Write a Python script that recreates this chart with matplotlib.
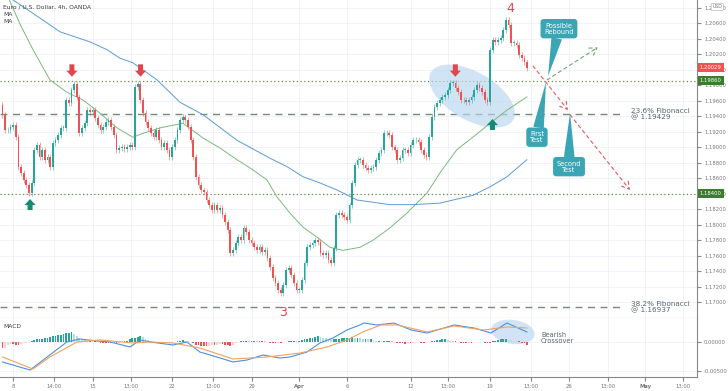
import matplotlib
matplotlib.use('Agg')
import matplotlib.pyplot as plt
import numpy as np
from matplotlib.patches import Ellipse
from matplotlib.transforms import IdentityTransform, blended_transform_factory
from matplotlib.ticker import FuncFormatter

# EUR/USD 4h closes
closes = [
    1.1942, 1.1922, 1.1922, 1.1926, 1.1929, 1.1913, 1.1875, 1.1867, 1.1858, 1.1851,
    1.1841, 1.1854, 1.1897, 1.1903, 1.1887, 1.1897, 1.1884, 1.1887, 1.1875, 1.1906,
    1.1909, 1.1916, 1.1925, 1.1925, 1.1961, 1.1957, 1.1974, 1.1982, 1.1965, 1.1918,
    1.1925, 1.1931, 1.1948, 1.1946, 1.1948, 1.1938, 1.1929, 1.1922, 1.1926, 1.1933,
    1.1935, 1.1926, 1.1916, 1.1897, 1.1899, 1.1900, 1.1898, 1.1900, 1.1903, 1.1900,
    1.1978, 1.1982, 1.1961, 1.1944, 1.1933, 1.1925, 1.1918, 1.1913, 1.1922, 1.1909,
    1.1900, 1.1906, 1.1897, 1.1887, 1.1900, 1.1909, 1.1922, 1.1935, 1.1939, 1.1935,
    1.1926, 1.1909, 1.1887, 1.1862, 1.1851, 1.1845, 1.1842, 1.1832, 1.1826, 1.1819,
    1.1826, 1.1819, 1.1822, 1.1813, 1.1804, 1.1793, 1.1764, 1.1768, 1.1777, 1.1784,
    1.1780, 1.1796, 1.1791, 1.1780, 1.1777, 1.1771, 1.1768, 1.1771, 1.1765, 1.1768,
    1.1757, 1.1746, 1.1731, 1.1725, 1.1716, 1.1712, 1.1722, 1.1742, 1.1744, 1.1735,
    1.1725, 1.1716, 1.1716, 1.1729, 1.1751, 1.1771, 1.1774, 1.1777, 1.1780, 1.1778,
    1.1764, 1.1761, 1.1764, 1.1755, 1.1751,
    1.1770, 1.1813, 1.1815, 1.1813, 1.1810, 1.1806, 1.1826, 1.1854, 1.1877, 1.1884,
    1.1884, 1.1877, 1.1873, 1.1871, 1.1873, 1.1875, 1.1884, 1.1893, 1.1897, 1.1918,
    1.1918, 1.1916, 1.1900, 1.1897, 1.1884, 1.1886, 1.1897, 1.1897, 1.1893, 1.1903,
    1.1909, 1.1909, 1.1907, 1.1897, 1.1890, 1.1887, 1.1913, 1.1939, 1.1952, 1.1957,
    1.1961, 1.1965, 1.1967, 1.1974, 1.1983, 1.1983, 1.1976, 1.1971, 1.1961, 1.1961,
    1.1958, 1.1961, 1.1965, 1.1974, 1.1980, 1.1976, 1.1971, 1.1961, 1.1958, 1.2026,
    1.2038, 1.2036, 1.2038, 1.2041, 1.2051, 1.2064, 1.2058, 1.2035, 1.2035, 1.2032,
    1.2019, 1.2015, 1.2010, 1.2002,
]
first_open = 1.1955
wick = 0.0004

# moving averages (green = fast, blue = slow), sampled along the lines
ma_fast_bars = [0.9, 6.6, 11.5, 17.9, 24.3, 30.4, 36.8, 43.2, 49.2, 53.0, 59.4, 68.1,
                75.7, 82.1, 88.5, 94.5, 99.8, 103.6, 108.5, 113.4, 118.7, 123.6, 128.5,
                134.9, 139.8, 146.2, 152.6, 160.2, 165.1, 171.5, 177.5, 184.0, 190.4, 197.9]
ma_fast = [1.2103, 1.2059, 1.2026, 1.1987, 1.1971, 1.1961, 1.1944, 1.1925, 1.1913, 1.1918,
           1.1925, 1.1931, 1.1912, 1.1899, 1.1884, 1.1871, 1.1858, 1.1836, 1.1815, 1.1797,
           1.1784, 1.1771, 1.1767, 1.1771, 1.1780, 1.1796, 1.1815, 1.1841, 1.1867, 1.1897,
           1.1913, 1.1931, 1.1948, 1.1965]
ma_slow_bars = [4.0, 12.3, 21.7, 33.0, 39.4, 44.3, 49.2, 58.3, 67.0, 75.7, 88.5, 100.9,
                107.4, 113.4, 119.8, 126.2, 133.8, 146.2, 154.9, 165.1, 177.5, 184.0, 190.4, 197.9]
ma_slow = [1.2090, 1.2071, 1.2049, 1.2036, 1.2026, 1.2015, 1.2009, 1.1987, 1.1958, 1.1942,
           1.1909, 1.1886, 1.1875, 1.1862, 1.1854, 1.1845, 1.1832, 1.1826, 1.1826, 1.1828,
           1.1838, 1.1849, 1.1862, 1.1884]

# MACD panel
macd_bars = [0, 10.4, 24.3, 29.2, 35.7, 40.6, 48.1, 51.9, 55.7, 64.3, 69.6, 74.5, 82.1,
             87.0, 92.3, 98.3, 104.7, 108.5, 114.9, 119.8, 124.7, 130.0, 134.9, 136.4,
             141.3, 147.7, 154.2, 160.2, 170.4, 177.9, 184.3, 190.4, 197.9]
macd_line = [-0.00346, -0.00483, -0.00005, 0.00046, 0.00012, -0.00005, -0.00090, 0.00030,
             -0.00005, -0.00056, -0.00005, -0.00176, -0.00278, -0.00346, -0.00312, -0.00227,
             -0.00278, -0.00261, -0.00176, -0.00022, 0.00063, 0.00200, 0.00285, 0.00319,
             0.00285, 0.00319, 0.00200, 0.00148, 0.00285, 0.00234, 0.00148, 0.00319, 0.00166]
signal_bars = [0, 11.5, 17.9, 28.1, 36.8, 49.2, 55.7, 64.3, 74.5, 87.0, 99.8, 112.3,
               122.5, 130.0, 136.0, 142.8, 148.9, 160.2, 170.4, 181.7, 190.4, 197.9]
signal_line = [-0.00261, -0.00466, -0.00261, -0.00005, 0.00030, -0.00022, -0.00005, -0.00022,
               -0.00108, -0.00295, -0.00261, -0.00193, -0.00090, 0.00029, 0.00166, 0.00285,
               0.00285, 0.00166, 0.00268, 0.00200, 0.00251, 0.00234]
hist = [
    -0.0011, -0.0010, -0.0005, -0.0004, -0.0004, -0.0005, -0.0005, -0.0004, -0.0003, -0.0002,
    -0.0001, 0.0002, 0.0003, 0.0004, 0.0004, 0.0005, 0.0006, 0.0007, 0.0008, 0.0009,
    0.0010, 0.0011, 0.0012, 0.0013, 0.0014, 0.0015, 0.0016, 0.0013, 0.0009, 0.0006,
    0.0004, 0.0003, 0.0002, 0.0002, 0.0001, 0.0001, -0.0001, -0.0002, -0.0002, -0.0003,
    -0.0003, -0.0003, -0.0002, -0.0003, -0.0002, -0.0001, 0.0001, 0.0002, 0.0004, 0.0006,
    0.0007, 0.0008, 0.0009, 0.0008, 0.0005, 0.0003, 0.0001, -0.0001, -0.0002, -0.0003,
    -0.0003, -0.0003, -0.0002, -0.0003, -0.0002, -0.0001, 0.0001, 0.0002, 0.0003, 0.0002,
    0.0001, -0.0001, -0.0003, -0.0005, -0.0006, -0.0007, -0.0008, -0.0008, -0.0007, -0.0006,
    -0.0006, -0.0005, -0.0004, -0.0004, -0.0005, -0.0006, -0.0007, -0.0006, -0.0003, -0.0001,
    0.0001, 0.0002, 0.0002, 0.0001, 0.0002, 0.0002, 0.0001, 0.0001, 0.0001, 0.00005,
    -0.0001, -0.0002, -0.0002, -0.0003, -0.0002, -0.0002, -0.0001, -0.0001, 0.0001, 0.0002,
    0.0002, 0.0001, 0.0002, 0.0003, 0.0004, 0.0005, 0.0006, 0.0007, 0.0008, 0.0009,
    0.0008, 0.0007, 0.0006, 0.0005, 0.0004, 0.0004, 0.0005, 0.0005, 0.0006, 0.0007,
    0.0007, 0.0007, 0.0008, 0.0007, 0.0007, 0.0006, 0.0005, 0.0005, 0.0004, 0.0004,
    0.0003, 0.0002, 0.0002, 0.0001, 0.0001, 0.0002, 0.0002, 0.0001, -0.0001, -0.0002,
    -0.0003, -0.0003, -0.0004, -0.0003, -0.0003, -0.0002, -0.0001, -0.0001, -0.0002, -0.0003,
    -0.0002, -0.0001, 0.0001, 0.0002, 0.0003, 0.0003, 0.0004, 0.0004, 0.0003, 0.0002,
    0.0001, 0.0001, -0.0001, -0.0002, -0.0002, -0.0003, -0.0002, -0.0002, -0.0001, -0.0001,
    -0.0001, -0.0001, -0.0002, -0.0003, -0.0003, 0.0001, 0.0002, 0.0003, 0.0004, 0.0004,
    0.0005, 0.0004, 0.0003, 0.0002, 0.0001, 0.0001, -0.0002, -0.0003, -0.0005,
]

tick_pos = [4.0, 19.4, 34.2, 48.5, 64.0, 79.4, 94.2, 111.9, 130.0, 154.2, 168.1, 184.0,
            199.4, 213.8, 228.5, 242.5, 256.8]
tick_labels = ['8', '14:00', '15', '13:00', '22', '13:00', '29', 'Apr', '6', '12', '13:00',
               '19', '13:00', '26', '13:00', 'May', '13:00']
price_ticks = [1.170, 1.172, 1.174, 1.176, 1.178, 1.180, 1.182, 1.184, 1.186, 1.188,
               1.190, 1.192, 1.194, 1.196, 1.198, 1.200, 1.202, 1.204, 1.206, 1.208]

resistance = 1.19860
support = 1.18400
last_price = 1.20029
fib_236 = 1.19429
fib_382 = 1.16937

UP = '#26a69a'
DOWN = '#ef5350'
TEAL = '#3aa5b4'
GRID = '#eef1f6'
TXT = '#5a6470'
AX_FS = 3.8

fig = plt.figure(figsize=(7.28, 3.91), dpi=100)
ax = fig.add_axes([0, 73 / 391, 697 / 728, 318 / 391])
axm = fig.add_axes([0, 14 / 391, 697 / 728, 59 / 391], sharex=ax)

# candles
c = np.array(closes)
o = np.array([first_open] + closes[:-1])
x = np.arange(len(c))
col = [UP if cc >= oo else DOWN for cc, oo in zip(c, o)]
lo = np.minimum(o, c)
hi = np.maximum(o, c)
ax.vlines(x, lo - wick, hi + wick, colors=col, lw=0.6, alpha=0.6, zorder=3)
ax.bar(x, np.maximum(hi - lo, 0.00006), bottom=lo, width=0.66, color=col, linewidth=0, zorder=4)

ax.plot(ma_fast_bars, ma_fast, color='#7cb97a', lw=0.7, zorder=2)
ax.plot(ma_slow_bars, ma_slow, color='#5b9bd5', lw=0.7, zorder=2)

# levels
ax.axhline(resistance, color='#6b8e4e', lw=0.9, ls=(0, (1, 2)), zorder=1)
ax.axhline(support, color='#6b8e4e', lw=0.9, ls=(0, (1, 2)), zorder=1)
ax.plot([-1, 234.9], [fib_236, fib_236], color='#768a78', lw=1.0, ls=(0, (5, 4)), zorder=1)
ax.plot([-1, 234.9], [fib_382, fib_382], color='#768a78', lw=1.0, ls=(0, (5, 4)), zorder=1)
ax.text(237.2, fib_236, '23.6% Fibonacci\n@ 1.19429', fontsize=5.2, color=TXT, va='center',
        linespacing=1.0)
ax.text(237.2, fib_382, '38.2% Fibonacci\n@ 1.16937', fontsize=5.2, color=TXT, va='center',
        linespacing=1.0)

ax.set_xlim(-0.94, 262.1)
ax.set_ylim(1.16798, 1.2090)
ax.set_yticks(price_ticks)
ax.yaxis.tick_right()
ax.yaxis.set_major_formatter(FuncFormatter(lambda v, _: f'{v:.5f}'))
ax.tick_params(axis='y', labelsize=AX_FS, colors='#888', labelcolor='#777', length=3, pad=2)
ax.tick_params(axis='x', length=0, labelbottom=False)
ax.set_xticks(tick_pos)
ax.grid(True, color=GRID, lw=0.6)
ax.set_axisbelow(True)
for s in ['top', 'left']:
    ax.spines[s].set_visible(False)
ax.spines['right'].set_color('#888')
ax.spines['bottom'].set_color('#999')
ax.spines['bottom'].set_linewidth(0.8)

# highlight ellipse around the consolidation
cx, cy = ax.transData.transform((177.2, 1.1966))
ax.add_patch(Ellipse((cx, cy), 95, 48, angle=-30, transform=IdentityTransform(),
                     fc='#b9d6f0', ec='none', alpha=0.65, zorder=1))

# swing arrows
def swing_arrow(xb, tail, tip, color):
    ax.annotate('', xy=(xb, tip), xytext=(xb, tail),
                arrowprops=dict(arrowstyle='simple,head_length=0.55,head_width=1.0,tail_width=0.45',
                                fc=color, ec='none', shrinkA=0, shrinkB=0, mutation_scale=8),
                zorder=6)

for xb in [26.2, 52.1, 170.9]:
    swing_arrow(xb, 1.2007, 1.1991, '#e0474c')
swing_arrow(10.4, 1.18191, 1.18333, '#168a74')
swing_arrow(184.9, 1.19223, 1.19365, '#168a74')

ax.text(191.5, 1.2079, '4', color='#e0474c', fontsize=9, ha='center', va='center')
ax.text(105.8, 1.1687, '3', color='#e0474c', fontsize=9, ha='center', va='center')

# projected paths
def dashed(p0, p1, color):
    ax.annotate('', xy=p1, xytext=p0,
                arrowprops=dict(arrowstyle='->,head_length=0.5,head_width=0.3', color=color,
                                lw=0.8, ls=(0, (3, 3)), shrinkA=0, shrinkB=0), zorder=5)

dashed((200.2, 1.2005), (213.4, 1.1948), '#e8595c')
dashed((214.2, 1.1942), (236.8, 1.1845), '#e8595c')
dashed((205.5, 1.1987), (224.7, 1.2029), '#6aa86a')

# callouts
def callout(text, center, tip):
    ax.annotate(text, xy=tip, xytext=center, ha='center', va='center', color='white',
                fontsize=4.8, linespacing=1.0,
                bbox=dict(boxstyle='round,pad=0.55,rounding_size=0.45', fc=TEAL, ec='none'),
                arrowprops=dict(arrowstyle='wedge,tail_width=1.6,shrink_factor=0.5', fc=TEAL,
                                ec='none', shrinkA=0, shrinkB=0),
                zorder=7)

callout('Possible\nRebound', (210.0, 1.2053), (205.9, 1.1992))
callout('First\nTest', (201.7, 1.1913), (205.1, 1.1984))
callout('Second\nTest', (213.8, 1.1875), (214.2, 1.1944))

# header
ax.text(0.005, 0.978, 'Euro / U.S. Dollar, 4h, OANDA', transform=ax.transAxes, fontsize=4.3,
        color='#3c3c3c', va='center')
ax.text(0.005, 0.953, 'MA', transform=ax.transAxes, fontsize=4.3, color='#3c3c3c', va='center')
ax.text(0.005, 0.931, 'MA', transform=ax.transAxes, fontsize=4.3, color='#3c3c3c', va='center')

# right-axis price tags
trans = blended_transform_factory(ax.transAxes, ax.transData)
for val, fc in [(last_price, '#ef5350'), (resistance, '#3b7d2c'), (support, '#3b7d2c')]:
    ax.text(1.004, val, f'{val:.5f}', transform=trans, ha='left', va='center', fontsize=AX_FS,
            color='white', clip_on=False, zorder=10,
            bbox=dict(boxstyle='square,pad=0.35', fc=fc, ec='none'))
ax.text(1.022, 1.2081, 'USD', transform=trans, ha='left', va='center', fontsize=3.3,
        color='#777', clip_on=False, zorder=10,
        bbox=dict(boxstyle='round,pad=0.25', fc='white', ec='#bbbbbb', lw=0.5))

# MACD
h = np.array(hist)
hx = np.arange(len(h))
hcol = []
for i, v in enumerate(h):
    prev = h[i - 1] if i > 0 else v
    if v >= 0:
        hcol.append('#26a69a' if v >= prev else '#b2dfdb')
    else:
        hcol.append('#ef5350' if v <= prev else '#ffcdd2')
axm.bar(hx, h, width=0.66, color=hcol, linewidth=0, zorder=2)
axm.plot(macd_bars, macd_line, color='#4a90e2', lw=0.8, zorder=3)
axm.plot(signal_bars, signal_line, color='#f0a35e', lw=0.8, zorder=3)

axm.set_ylim(-0.00602, 0.00404)
axm.set_yticks([0.0, -0.005])
axm.yaxis.tick_right()
axm.yaxis.set_major_formatter(FuncFormatter(lambda v, _: f'{v:.5f}'))
axm.tick_params(axis='y', labelsize=AX_FS, colors='#888', labelcolor='#777', length=3, pad=2)
axm.set_xticks(tick_pos)
axm.set_xticklabels(tick_labels)
axm.tick_params(axis='x', labelsize=AX_FS, colors='#888', labelcolor='#777', length=3, pad=2)
for lbl in axm.get_xticklabels():
    if lbl.get_text() in ('Apr', 'May'):
        lbl.set_fontweight('bold')
axm.grid(True, color=GRID, lw=0.6)
axm.set_axisbelow(True)
for s in ['top', 'left']:
    axm.spines[s].set_visible(False)
axm.spines['right'].set_color('#888')
axm.spines['bottom'].set_color('#888')

mx, my = axm.transData.transform((192.6, 0.00166))
axm.add_patch(Ellipse((mx, my), 44, 24, angle=-8, transform=IdentityTransform(),
                      fc='#b9d6f0', ec='none', alpha=0.65, zorder=1))
axm.text(203.2, 0.0006, 'Bearish\nCrossover', fontsize=4.8, color=TXT, va='center',
         linespacing=1.0)
axm.text(0.005, 0.86, 'MACD', transform=axm.transAxes, fontsize=4.3, color='#3c3c3c',
         va='center')

fig.savefig('out.png', dpi=100)
